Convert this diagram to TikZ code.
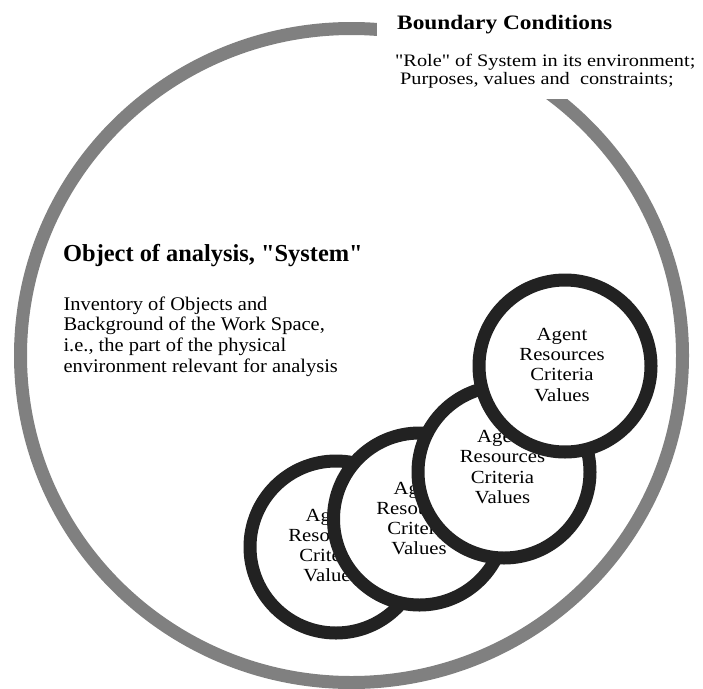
\documentclass[tikz,border=0pt]{standalone}
\usepackage{fontspec}
\setmainfont{Liberation Serif}
\newfontfamily\topfont{Liberation Serif}[FakeStretch=1.16]
\newfontfamily\headfont{Liberation Serif}[FakeStretch=1.14]
\newfontfamily\titlefont{Liberation Serif}[FakeStretch=1.0]
\newfontfamily\leftfont{Liberation Serif}[FakeStretch=1.06]
\newfontfamily\ringfont{Liberation Serif}[FakeStretch=1.12]
\usetikzlibrary{shapes.geometric}
\definecolor{biggray}{HTML}{808080}
\definecolor{ringdark}{HTML}{222222}
\begin{document}
\begin{tikzpicture}[x=1pt,y=-1pt,
  bigring/.style={ellipse,draw=biggray,line width=13pt,minimum width=662pt,minimum height=654pt,inner sep=0pt},
  agentring/.style={circle,draw=ringdark,line width=13pt,fill=white,minimum size=172pt,inner sep=0pt},
  agenttext/.style={font=\ringfont\fontsize{18.5}{20.3}\selectfont,align=center,inner sep=0pt},
  headline/.style={anchor=base west,inner sep=0pt,font=\headfont\bfseries\fontsize{20.5}{22}\selectfont},
  topline/.style={anchor=base west,inner sep=0pt,font=\topfont\fontsize{17.5}{18}\selectfont},
  titleline/.style={anchor=base west,inner sep=0pt,font=\titlefont\bfseries\fontsize{24.4}{28}\selectfont},
  leftline/.style={anchor=base west,inner sep=0pt,font=\leftfont\fontsize{19.3}{20.8}\selectfont}
]
\useasboundingbox (0,0) rectangle (703,688);
\fill[white] (0,0) rectangle (703,688);
% big boundary ellipse
\node[bigring] (system) at (351.5,355.5) {};
% white area covering the ellipse behind the boundary text
\fill[white] (377,-2) rectangle (705,98.5);
% boundary conditions text
\node[headline] (bc) at (397,29) {Boundary Conditions};
\node[topline] (role1) at (395,66) {"Role" of System in its environment;};
\node[topline] (role2) at (400,84.3) {Purposes, values and~ constraints;};
% object of analysis text
\node[titleline] (title) at (63,261) {Object of analysis, "System"};
\node[leftline] (inv1) at (63.3,310) {Inventory of Objects and};
\node[leftline] (inv2) at (63.3,330.8) {Background of the Work Space,};
\node[leftline] (inv3) at (63.3,351.6) {i.e., the part of the physical};
\node[leftline] (inv4) at (63.3,372.4) {environment relevant for analysis};
% agent rings
\node[agentring] (r1) at (336,547) {};
\node[agenttext] (t1) at (331,545.5) {Agent\\Resources\\Criteria\\Values};
\node[agentring] (r2) at (419.5,519) {};
\node[agenttext] (t2) at (419,518.5) {Agent\\Resources\\Criteria\\Values};
\node[agentring] (r3) at (504,472) {};
\node[agenttext] (t3) at (502.5,467) {Agent\\Resources\\Criteria\\Values};
\node[agentring] (r4) at (565,366) {};
\node[agenttext] (t4) at (562,364.7) {Agent\\Resources\\Criteria\\Values};
\end{tikzpicture}
\end{document}
